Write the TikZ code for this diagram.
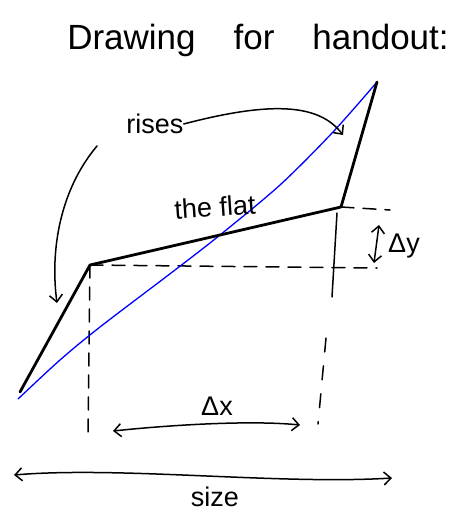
\documentclass[tikz,border=0pt]{standalone}
\usepackage{fontspec}
\setmainfont{Liberation Sans}
\usetikzlibrary{arrows.meta}
\begin{document}
\begin{tikzpicture}[x=1pt,y=-1pt,
  hand/.style={line width=1.5pt, line cap=round, line join=round},
  graphline/.style={line width=2.8pt, line cap=round, line join=round},
  fitline/.style={blue, line width=1.3pt, line cap=round},
  guide/.style={hand, dash pattern=on 13pt off 9pt},
  tipped/.style={hand, -{Straight Barb[length=7pt,width=13pt]}},
  dbl/.style={hand, {Straight Barb[length=7pt,width=13pt]}-{Straight Barb[length=7pt,width=13pt]}},
  lbl/.style={font=\fontsize{27}{29}\selectfont, inner sep=0pt},
  ttl/.style={font=\fontsize{35}{37}\selectfont, inner sep=0pt}]
\useasboundingbox (0,0) rectangle (454,511);
\fill[white] (0,0) rectangle (454,511);

% title
\node[ttl] (title) at (258,40) {Drawing\hspace{38pt}for\hspace{38pt}handout:};

% graph points
\coordinate (p0) at (20,392);
\coordinate (p1) at (90,265);
\coordinate (p2) at (220,235);
\coordinate (p3) at (341,207);
\coordinate (p4) at (377,82);
\coordinate (b0) at (18,399);

% guides
\coordinate (hA) at (377,268);
\coordinate (hB) at (390,210);
\coordinate (v1) at (88,432);
\coordinate (v2t) at (337,213);
\coordinate (v2m) at (332,297);
\coordinate (v2n) at (326,338);
\coordinate (v2b) at (318,424);
\draw[guide] (p1) -- (hA);
\draw[guide] (p3) -- (hB);
\draw[guide] (p1) -- (v1);
\draw[hand] (v2t) -- (v2m);
\draw[hand, dash pattern=on 14pt off 14pt] (v2n) -- (v2b);

% blue fit line
\draw[fitline] plot[smooth, tension=0.5] coordinates {(b0) (60,360) (100,327) (175,270) (220,235) (280,185) (333,132) (p4)};

% black graph
\draw[graphline] (p0) -- (p1) -- (p2) -- (p3) -- (p4);

% labels
\node[lbl] (rises) at (155,124) {rises};
\node[lbl, rotate=4] (flat) at (215,207) {the flat};
\node[lbl] (dy) at (404,246) {Δy};
\node[lbl] (dx) at (217,406) {Δx};
\node[lbl] (size) at (215,497) {size};

% rises arrows
\coordinate (r1) at (343,135);
\coordinate (r2) at (57,303);
\draw[tipped] (rises.east) .. controls (275,100) and (320,105) .. (r1);
\draw[tipped] (97,146) .. controls (60,190) and (50,250) .. (r2);

% dimension arrows
\coordinate (dyT) at (379,225);
\coordinate (dyB) at (374,263);
\draw[dbl] (dyT) -- (dyB);
\coordinate (dxL) at (113,431);
\coordinate (dxR) at (300,425);
\draw[dbl] (dxL) .. controls (170,425) and (250,420) .. (dxR);
\coordinate (sL) at (14,475);
\coordinate (sR) at (392,478);
\draw[dbl] (sL) .. controls (120,466) and (280,485) .. (sR);
\end{tikzpicture}
\end{document}
